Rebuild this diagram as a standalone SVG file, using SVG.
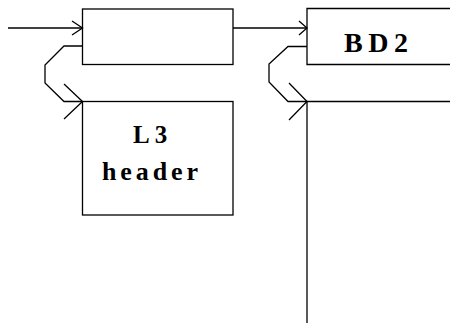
<svg xmlns="http://www.w3.org/2000/svg" width="450" height="325" viewBox="0 0 450 325">
<style>
.box{fill:none;stroke:#000;stroke-width:1.3}
.ln{fill:none;stroke:#000;stroke-width:1.3}
.lbl{font-family:"Liberation Serif","Times New Roman",serif;font-weight:bold;fill:#000}
</style>
<rect width="450" height="325" fill="#fff"/>
<g id="node-box1">
<rect class="box" x="82.5" y="9" width="150.5" height="55.5"/>
</g>
<g id="node-l3header">
<rect class="box" x="82.5" y="101.5" width="150.5" height="113.5"/>
<text class="lbl" x="133" y="143" font-size="25" letter-spacing="5">L3</text>
<text class="lbl" x="102" y="180" font-size="26" letter-spacing="3.9">header</text>
</g>
<g id="node-bd2">
<path class="box" d="M452,8.5 H307 V64.5 H452"/>
<text class="lbl" x="344" y="52" font-size="28" letter-spacing="5.5">BD2</text>
</g>
<g id="node-bd2-body">
<path class="box" d="M452,101.5 H307 V323"/>
</g>
<g id="connectors">
<path class="ln" d="M8,28 H82.5"/>
<path class="ln" d="M72,21 L82.5,28 L72,35"/>
<path class="ln" d="M233,28 H307"/>
<path class="ln" d="M299,21 L307,28 L299,35"/>
<path class="ln" d="M82.5,46 H64 L45,65 V83 L64,101.5 H82.5"/>
<path class="ln" d="M64,84 L82.5,101.5 L64,119"/>
<path class="ln" d="M307,46.5 H288 L269,64 V82 L288,101.5 H307"/>
<path class="ln" d="M289,83 L307,101.5 L289,120"/>
</g>
</svg>
